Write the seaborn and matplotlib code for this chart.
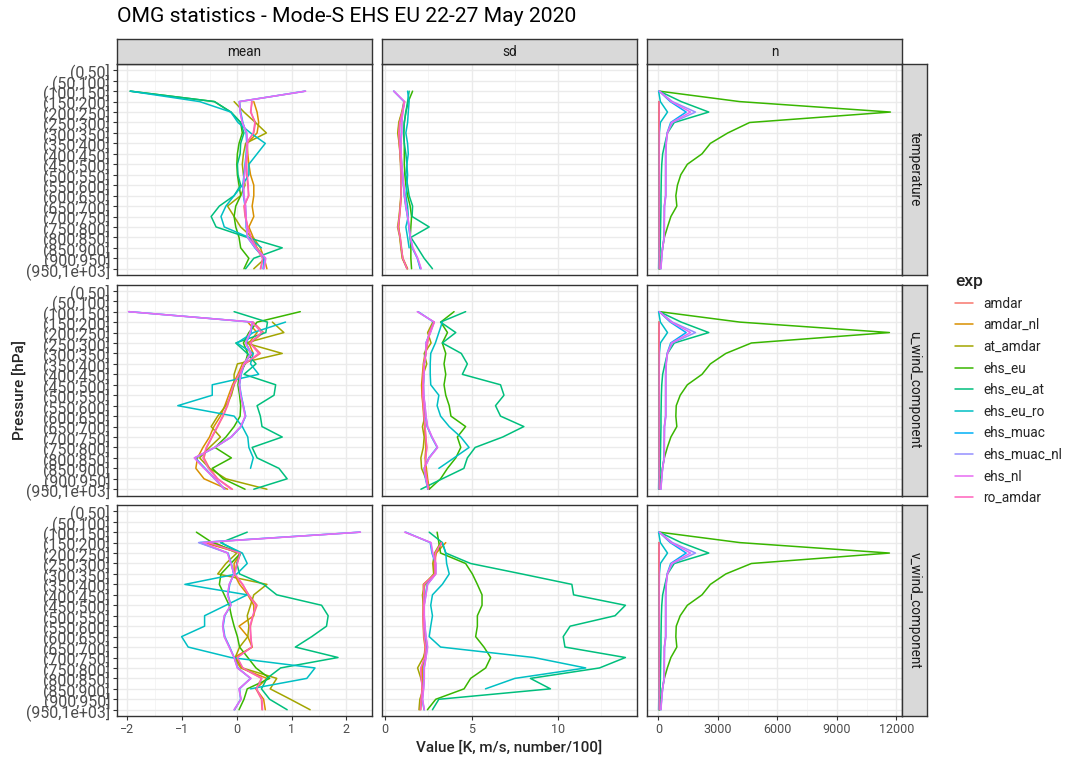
import numpy as np
import pandas as pd
import matplotlib
matplotlib.use('Agg')
import matplotlib.pyplot as plt
import seaborn as sns
from matplotlib.lines import Line2D
from matplotlib.ticker import MultipleLocator, AutoMinorLocator

na = np.nan

# pressure bins (y axis, top to bottom)
levels = ['(0,50]', '(50,100]', '(100,150]', '(150,200]', '(200,250]', '(250,300]',
          '(300,350]', '(350,400]', '(400,450]', '(450,500]', '(500,550]', '(550,600]',
          '(600,650]', '(650,700]', '(700,750]', '(750,800]', '(800,850]', '(850,900]',
          '(900,950]', '(950,1e+03]']
# the data only starts at (100,150]
data_levels = levels[2:]

exps = ['amdar', 'amdar_nl', 'at_amdar', 'ehs_eu', 'ehs_eu_at', 'ehs_eu_ro',
        'ehs_muac', 'ehs_muac_nl', 'ehs_nl', 'ro_amdar']
exp_colors = ['#F8766D', '#D89000', '#A3A500', '#39B600', '#00BF7D', '#00BFC4',
              '#00B0F6', '#9590FF', '#E76BF3', '#FF62BC']

stat_names = ['mean', 'sd', 'n']
var_names = ['temperature', 'u_wind_component', 'v_wind_component']

# ---- temperature ----
temp_mean = {
    'amdar':       [na, 0.28, 0.25, 0.34, 0.31, 0.17, 0.19, 0.18, 0.18, 0.20, 0.22, 0.13, 0.15, 0.20, 0.25, 0.35, 0.48, 0.43],
    'amdar_nl':    [na, 0.31, 0.37, 0.40, 0.37, 0.19, 0.20, 0.22, 0.25, 0.31, 0.31, 0.28, 0.31, 0.22, 0.30, 0.43, 0.50, 0.55],
    'at_amdar':    [na, -0.05, 0.13, 0.34, 0.54, 0.16, 0.12, 0.10, 0.12, 0.15, 0.07, -0.17, -0.05, 0.07, 0.28, 0.37, 0.52, 0.31],
    'ehs_eu':      [-1.95, -0.41, -0.11, 0.07, 0.10, 0.04, 0.01, 0.00, 0.01, 0.04, 0.07, -0.02, -0.05, -0.02, 0.04, 0.07, 0.22, 0.13],
    'ehs_eu_at':   [-1.95, -0.41, -0.11, 0.07, 0.13, 0.07, 0.06, 0.01, 0.02, 0.07, -0.05, -0.32, -0.47, -0.38, 0.19, 0.83, 0.31, 0.16],
    'ehs_eu_ro':   [-1.95, -0.68, -0.11, 0.02, 0.25, 0.52, 0.37, 0.22, 0.22, 0.10, -0.05, -0.20, -0.29, -0.23, 0.22, 0.45, na, na],
    'ehs_muac':    [1.25, 0.05, 0.07, 0.11, 0.17, 0.18, 0.17, 0.15, 0.13, 0.11, 0.12, 0.15, 0.17, 0.17, 0.20, 0.33, 0.50, 0.48],
    'ehs_muac_nl': [1.25, 0.04, 0.06, 0.10, 0.18, 0.19, 0.18, 0.16, 0.14, 0.12, 0.13, 0.16, 0.16, 0.18, 0.19, 0.34, 0.52, 0.49],
    'ehs_nl':      [1.26, 0.05, 0.06, 0.10, 0.18, 0.20, 0.18, 0.16, 0.14, 0.12, 0.13, 0.16, 0.17, 0.18, 0.20, 0.35, 0.53, 0.50],
    'ro_amdar':    [na, 0.27, 0.26, 0.33, 0.30, 0.18, 0.19, 0.17, 0.19, 0.21, 0.21, 0.14, 0.16, 0.20, 0.26, 0.36, 0.47, 0.44],
}
temp_sd = {
    'amdar':       [na, 1.10, 1.00, 0.85, 0.80, 0.83, 0.87, 0.90, 0.92, 0.93, 0.92, 0.88, 0.83, 0.75, 0.87, 0.94, 1.00, 1.25],
    'amdar_nl':    [na, 1.12, 0.98, 0.80, 0.75, 0.81, 0.86, 0.90, 0.92, 0.92, 0.92, 0.87, 0.81, 0.78, 0.85, 0.92, 1.02, 1.29],
    'at_amdar':    [na, 1.08, 0.95, 0.78, 0.72, 0.80, 0.85, 0.88, 0.90, 0.93, 0.90, 0.85, 0.80, 0.71, 0.84, 0.90, 0.98, 1.27],
    'ehs_eu':      [1.58, 1.33, 1.19, 1.10, 1.07, 1.10, 1.10, 1.10, 1.13, 1.19, 1.29, 1.44, 1.52, 1.48, 1.44, 1.48, 1.48, 1.52],
    'ehs_eu_at':   [1.38, 1.29, 1.19, 1.10, 1.06, 1.10, 1.19, 1.25, 1.19, 1.29, 1.38, 1.58, 1.55, 2.54, 1.48, 1.87, 2.25, 2.73],
    'ehs_eu_ro':   [1.29, 1.38, 1.33, 1.29, 1.19, 1.29, 1.33, 1.25, 1.29, 1.25, 1.19, 1.29, 1.33, 1.19, 1.29, 1.38, na, na],
    'ehs_muac':    [0.50, 1.08, 1.00, 0.95, 0.93, 0.90, 0.91, 0.95, 1.00, 1.05, 1.10, 1.18, 1.28, 1.36, 1.43, 1.56, 1.85, 2.02],
    'ehs_muac_nl': [0.48, 1.10, 1.00, 0.94, 0.94, 0.90, 0.90, 0.94, 1.00, 1.06, 1.10, 1.19, 1.29, 1.38, 1.44, 1.58, 1.87, 2.06],
    'ehs_nl':      [0.50, 1.12, 1.02, 0.95, 0.95, 0.91, 0.92, 0.95, 1.01, 1.07, 1.12, 1.20, 1.30, 1.39, 1.46, 1.60, 1.88, 2.08],
    'ro_amdar':    [na, 1.09, 0.99, 0.83, 0.78, 0.82, 0.86, 0.89, 0.91, 0.92, 0.91, 0.87, 0.82, 0.74, 0.86, 0.93, 1.01, 1.26],
}
temp_n = {
    'amdar':       [na, 35, 38, 40, 42, 40, 38, 40, 41, 40, 39, 40, 42, 40, 38, 40, 41, 40],
    'amdar_nl':    [na, 30, 33, 35, 36, 35, 34, 35, 36, 35, 34, 35, 36, 35, 34, 35, 36, 35],
    'at_amdar':    [na, 32, 35, 37, 38, 37, 36, 37, 38, 37, 36, 37, 38, 37, 36, 37, 38, 37],
    'ehs_eu':      [50, 4100, 11700, 4600, 3500, 2620, 2200, 1460, 1130, 960, 880, 930, 630, 460, 300, 215, 130, 80],
    'ehs_eu_at':   [50, 1150, 2540, 800, 460, 330, 215, 170, 150, 140, 130, 130, 120, 110, 100, 90, 70, 50],
    'ehs_eu_ro':   [10, 100, 460, 100, 50, 45, 40, 40, 40, 40, 40, 40, 40, 40, 40, 30, 20, 10],
    'ehs_muac':    [40, 600, 1400, 620, 440, 380, 360, 360, 360, 360, 360, 300, 300, 290, 280, 210, 160, 120],
    'ehs_muac_nl': [50, 710, 1870, 710, 460, 400, 380, 380, 380, 380, 380, 310, 300, 300, 300, 215, 165, 130],
    'ehs_nl':      [45, 650, 1620, 660, 450, 390, 370, 370, 370, 370, 370, 305, 300, 300, 295, 210, 160, 125],
    'ro_amdar':    [na, 33, 36, 38, 39, 38, 37, 38, 39, 38, 37, 38, 39, 38, 37, 38, 39, 38],
}

# ---- u wind ----
u_mean = {
    'amdar':       [na, 0.30, 0.49, 0.25, 0.43, 0.15, 0.05, -0.05, -0.11, -0.17, -0.25, -0.35, -0.45, -0.55, -0.60, -0.50, -0.35, -0.08],
    'amdar_nl':    [na, 0.20, 0.37, 0.22, 0.30, 0.10, 0.02, -0.08, -0.15, -0.22, -0.30, -0.42, -0.50, -0.62, -0.72, -0.75, -0.60, -0.17],
    'at_amdar':    [na, 0.65, 0.86, 0.16, 0.83, 0.01, -0.05, -0.05, -0.10, -0.20, -0.35, -0.47, -0.30, -0.50, -0.68, -0.50, -0.20, 0.55],
    'ehs_eu':      [1.16, 0.37, 0.22, 0.12, 0.20, 0.15, 0.05, 0.02, 0.05, 0.07, 0.06, -0.05, -0.20, -0.40, -0.10, -0.45, -0.25, 0.15],
    'ehs_eu_at':   [-0.05, 0.56, 0.53, -0.02, 0.19, 0.35, 0.13, 0.71, 0.68, 0.37, 0.43, 0.46, 0.83, 0.28, 0.37, 0.77, 0.92, 0.31],
    'ehs_eu_ro':   [na, 0.89, 0.30, 0.00, 0.30, 0.25, 0.40, -0.45, -0.45, -1.08, -0.05, 0.10, 0.20, 0.22, 0.30, 0.25, na, na],
    'ehs_muac':    [-1.97, 0.29, 0.26, 0.17, 0.26, 0.14, 0.08, 0.05, 0.08, 0.12, 0.16, 0.08, -0.10, -0.40, -0.76, -0.58, -0.40, -0.22],
    'ehs_muac_nl': [-1.98, 0.28, 0.25, 0.16, 0.25, 0.13, 0.07, 0.04, 0.07, 0.12, 0.16, 0.07, -0.11, -0.41, -0.77, -0.59, -0.41, -0.23],
    'ehs_nl':      [-1.98, 0.29, 0.24, 0.16, 0.26, 0.13, 0.07, 0.05, 0.07, 0.11, 0.15, 0.07, -0.10, -0.40, -0.78, -0.60, -0.40, -0.22],
    'ro_amdar':    [na, 0.28, 0.45, 0.24, 0.40, 0.14, 0.04, -0.06, -0.12, -0.18, -0.26, -0.36, -0.46, -0.56, -0.62, -0.52, -0.36, -0.10],
}
u_sd = {
    'amdar':       [na, 2.83, 2.54, 2.45, 2.35, 2.25, 2.20, 2.18, 2.15, 2.20, 2.25, 2.30, 2.35, 2.40, 2.35, 2.30, 2.40, 2.50],
    'amdar_nl':    [na, 2.80, 2.60, 2.40, 2.30, 2.20, 2.15, 2.10, 2.12, 2.18, 2.22, 2.28, 2.30, 2.35, 2.30, 2.38, 2.45, 2.55],
    'at_amdar':    [na, 2.75, 2.45, 2.65, 2.25, 2.40, 2.20, 2.15, 2.20, 2.25, 2.30, 2.15, 2.25, 2.20, 2.06, 2.10, 2.35, 2.50],
    'ehs_eu':      [3.98, 3.21, 3.60, 3.30, 3.50, 3.40, 3.50, 3.40, 3.50, 3.70, 3.80, 4.65, 4.17, 4.37, 4.08, 3.60, 3.20, 2.54],
    'ehs_eu_at':   [4.65, 3.20, 4.08, 3.30, 4.40, 4.75, 4.46, 6.67, 6.87, 6.38, 6.67, 8.02, 6.80, 5.20, 4.75, 4.55, 3.30, 2.06],
    'ehs_eu_ro':   [na, 3.30, 3.10, 2.90, 2.63, 2.60, 2.60, 2.63, 3.10, 3.00, 3.20, 3.70, 4.37, 4.85, 3.98, 3.10, na, na],
    'ehs_muac':    [1.90, 2.80, 2.58, 2.36, 2.33, 2.26, 2.24, 2.21, 2.22, 2.28, 2.33, 2.42, 2.68, 3.00, 2.52, 2.25, 2.33, 2.46],
    'ehs_muac_nl': [1.87, 2.83, 2.60, 2.35, 2.35, 2.25, 2.25, 2.20, 2.22, 2.30, 2.35, 2.44, 2.70, 3.02, 2.54, 2.25, 2.35, 2.48],
    'ehs_nl':      [1.85, 2.84, 2.62, 2.36, 2.36, 2.26, 2.24, 2.21, 2.23, 2.30, 2.36, 2.45, 2.71, 3.03, 2.55, 2.26, 2.36, 2.49],
    'ro_amdar':    [na, 2.82, 2.55, 2.44, 2.34, 2.24, 2.19, 2.17, 2.15, 2.21, 2.24, 2.30, 2.34, 2.40, 2.34, 2.31, 2.40, 2.50],
}
u_n = {
    'amdar':       [na, 36, 38, 40, 41, 40, 39, 40, 41, 40, 39, 40, 41, 40, 39, 40, 41, 40],
    'amdar_nl':    [na, 31, 33, 35, 36, 35, 34, 35, 36, 35, 34, 35, 36, 35, 34, 35, 36, 35],
    'at_amdar':    [na, 33, 35, 37, 38, 37, 36, 37, 38, 37, 36, 37, 38, 37, 36, 37, 38, 37],
    'ehs_eu':      [50, 4110, 11650, 4690, 3400, 2620, 2200, 1460, 1100, 900, 880, 930, 630, 450, 300, 200, 110, 60],
    'ehs_eu_at':   [50, 1150, 2540, 800, 460, 330, 215, 170, 150, 140, 130, 130, 120, 110, 100, 90, 70, 50],
    'ehs_eu_ro':   [10, 100, 460, 100, 50, 45, 40, 40, 40, 40, 40, 40, 40, 40, 40, 30, 20, 10],
    'ehs_muac':    [40, 600, 1400, 620, 440, 380, 360, 360, 360, 360, 360, 300, 300, 290, 280, 210, 160, 120],
    'ehs_muac_nl': [50, 710, 1870, 710, 460, 400, 380, 380, 380, 380, 380, 310, 300, 300, 300, 215, 165, 130],
    'ehs_nl':      [45, 650, 1620, 660, 450, 390, 370, 370, 370, 370, 370, 305, 300, 300, 295, 210, 160, 125],
    'ro_amdar':    [na, 34, 36, 38, 39, 38, 37, 38, 39, 38, 37, 38, 39, 38, 37, 38, 39, 38],
}

# ---- v wind ----
v_mean = {
    'amdar':       [na, -0.55, 0.05, 0.00, -0.05, 0.10, 0.22, 0.37, 0.30, 0.25, 0.25, 0.28, 0.00, 0.10, 0.45, 0.35, 0.45, 0.46],
    'amdar_nl':    [na, -0.60, 0.07, -0.05, -0.05, 0.05, 0.20, 0.31, 0.31, 0.04, 0.20, 0.28, -0.05, 0.07, 0.55, 0.35, 0.49, 0.52],
    'at_amdar':    [na, -0.41, 0.00, -0.20, -0.35, 0.55, 0.31, 0.25, 0.19, 0.22, 0.20, 0.05, -0.03, 0.10, 0.73, 0.61, 0.98, 1.34],
    'ehs_eu':      [-0.74, -0.45, 0.07, -0.11, -0.29, -0.32, -0.23, -0.14, -0.10, -0.05, 0.01, 0.05, 0.20, 0.35, 0.60, 0.19, 0.13, 0.04],
    'ehs_eu_at':   [0.19, -0.29, 0.07, 0.00, 0.05, 0.49, 0.73, 1.55, 1.67, 1.64, 1.37, 1.07, 1.85, 0.80, 0.55, 0.45, 0.60, 0.92],
    'ehs_eu_ro':   [na, -0.30, 0.10, 0.19, 0.00, -0.95, 0.19, -0.20, -0.59, -0.59, -1.01, -0.89, -0.11, 1.43, 1.28, 0.25, na, na],
    'ehs_muac':    [2.25, -0.68, -0.16, -0.10, -0.06, -0.13, -0.16, -0.11, -0.22, -0.25, -0.22, -0.13, -0.05, 0.02, 0.25, 0.05, 0.07, -0.04],
    'ehs_muac_nl': [2.26, -0.70, -0.17, -0.11, -0.05, -0.14, -0.17, -0.11, -0.23, -0.26, -0.23, -0.14, -0.05, 0.01, 0.25, 0.04, 0.07, -0.05],
    'ehs_nl':      [2.26, -0.62, -0.17, -0.11, -0.05, -0.14, -0.17, -0.11, -0.23, -0.26, -0.23, -0.14, -0.05, 0.01, 0.26, 0.04, 0.08, -0.05],
    'ro_amdar':    [na, -0.52, 0.06, 0.01, -0.04, 0.11, 0.21, 0.35, 0.29, 0.24, 0.26, 0.27, 0.01, 0.11, 0.46, 0.36, 0.46, 0.47],
}
v_sd = {
    'amdar':       [na, 3.30, 2.92, 2.90, 2.90, 2.25, 2.25, 2.22, 2.20, 2.22, 2.25, 2.35, 2.30, 2.10, 2.10, 2.15, 2.10, 2.06],
    'amdar_nl':    [na, 3.50, 2.95, 2.80, 2.85, 2.20, 2.20, 2.20, 2.18, 2.20, 2.22, 2.30, 2.25, 2.15, 2.15, 2.12, 2.08, 2.00],
    'at_amdar':    [na, 3.20, 2.85, 2.75, 2.80, 2.30, 2.15, 2.20, 2.22, 2.25, 2.30, 2.40, 2.20, 1.87, 2.06, 2.20, 2.00, 1.95],
    'ehs_eu':      [3.00, 3.10, 3.20, 4.65, 5.04, 5.33, 5.60, 5.60, 5.33, 5.33, 5.23, 5.71, 6.10, 5.81, 4.94, 4.56, 2.92, 2.44],
    'ehs_eu_at':   [2.54, 3.30, 3.50, 4.94, 7.90, 10.80, 10.90, 13.90, 13.30, 10.70, 10.30, 10.40, 13.90, 12.40, 8.40, 9.56, 3.10, 2.73],
    'ehs_eu_ro':   [na, 3.30, 3.50, 3.55, 3.70, 3.30, 2.73, 2.63, 2.73, 2.63, 2.54, 3.20, 8.60, 11.60, 7.50, 5.80, na, na],
    'ehs_muac':    [1.18, 2.60, 2.70, 2.90, 2.90, 2.42, 2.33, 2.24, 2.24, 2.28, 2.33, 2.42, 2.33, 2.24, 2.24, 2.20, 2.14, 2.24],
    'ehs_muac_nl': [1.15, 2.63, 2.73, 2.92, 2.92, 2.44, 2.35, 2.25, 2.25, 2.29, 2.35, 2.44, 2.35, 2.25, 2.25, 2.21, 2.15, 2.25],
    'ehs_nl':      [1.12, 2.65, 2.75, 2.93, 2.93, 2.45, 2.36, 2.26, 2.26, 2.30, 2.36, 2.45, 2.36, 2.26, 2.26, 2.22, 2.16, 2.26],
    'ro_amdar':    [na, 3.25, 2.90, 2.85, 2.88, 2.24, 2.22, 2.21, 2.19, 2.21, 2.24, 2.33, 2.28, 2.05, 2.08, 2.14, 2.07, 2.03],
}
v_n = {
    'amdar':       [na, 36, 38, 40, 41, 40, 39, 40, 41, 40, 39, 40, 41, 40, 39, 40, 41, 40],
    'amdar_nl':    [na, 31, 33, 35, 36, 35, 34, 35, 36, 35, 34, 35, 36, 35, 34, 35, 36, 35],
    'at_amdar':    [na, 33, 35, 37, 38, 37, 36, 37, 38, 37, 36, 37, 38, 37, 36, 37, 38, 37],
    'ehs_eu':      [50, 4110, 11650, 4690, 3400, 2620, 2200, 1460, 1100, 900, 880, 930, 630, 450, 300, 200, 110, 60],
    'ehs_eu_at':   [50, 1150, 2540, 800, 460, 330, 215, 170, 150, 140, 130, 130, 120, 110, 100, 90, 70, 50],
    'ehs_eu_ro':   [10, 100, 460, 100, 50, 45, 40, 40, 40, 40, 40, 40, 40, 40, 40, 30, 20, 10],
    'ehs_muac':    [40, 600, 1400, 620, 440, 380, 360, 360, 360, 360, 360, 300, 300, 290, 280, 210, 160, 120],
    'ehs_muac_nl': [50, 710, 1870, 710, 460, 400, 380, 380, 380, 380, 380, 310, 300, 300, 300, 215, 165, 130],
    'ehs_nl':      [45, 650, 1620, 660, 450, 390, 370, 370, 370, 370, 370, 305, 300, 300, 295, 210, 160, 125],
    'ro_amdar':    [na, 34, 36, 38, 39, 38, 37, 38, 39, 38, 37, 38, 39, 38, 37, 38, 39, 38],
}

panels = [[temp_mean, temp_sd, temp_n],
          [u_mean, u_sd, u_n],
          [v_mean, v_sd, v_n]]


def to_long(d):
    rows = []
    for exp in exps:
        for lev, val in zip(data_levels, d[exp]):
            rows.append((exp, levels.index(lev), val))
    return pd.DataFrame(rows, columns=['exp', 'pos', 'value']).dropna()


sns.set_style('white')
plt.rcParams['font.family'] = ['Roboto', 'DejaVu Sans']

W, H = 1065, 758
fig, axes = plt.subplots(3, 3, figsize=(W / 100, H / 100), dpi=100, sharex='col', sharey=True)
fig.subplots_adjust(left=117 / W, right=902 / W, top=1 - 64 / H, bottom=1 - 716 / H,
                    wspace=10 / 255, hspace=9.5 / 211)

border = '#333333'
tick_major = [1, 5, 3000]

for r in range(3):
    for c in range(3):
        ax = axes[r, c]
        df = to_long(panels[r][c])
        sns.lineplot(data=df, x='value', y='pos', hue='exp', hue_order=exps,
                     palette=exp_colors, orient='y', sort=True, estimator=None,
                     legend=False, lw=1.1, ax=ax)
        ax.set_xlabel('')
        ax.set_ylabel('')
        ax.set_facecolor('white')
        ax.set_axisbelow(True)
        ax.xaxis.set_major_locator(MultipleLocator(tick_major[c]))
        ax.xaxis.set_minor_locator(AutoMinorLocator(2))
        ax.grid(True, which='major', color='#EBEBEB', lw=1.0)
        ax.grid(True, which='minor', axis='x', color='#F4F4F4', lw=0.6)
        for sp in ax.spines.values():
            sp.set_color(border)
            sp.set_linewidth(1.0)
        ax.tick_params(which='major', length=3, width=0.8, color=border,
                       labelsize=9, labelcolor='#4D4D4D', pad=2)
        ax.tick_params(which='minor', length=0)
        ax.tick_params(axis='y', labelsize=11.5)
        ax.tick_params(left=(c == 0), labelleft=(c == 0),
                       bottom=(r == 2), labelbottom=(r == 2))

axes[0, 0].set_yticks(range(len(levels)))
axes[0, 0].set_yticklabels(levels)
axes[0, 0].set_ylim(len(levels) - 0.4, -0.6)
axes[2, 0].set_xticks([-2, -1, 0, 1, 2])

# facet strips
strip_h = 25 / H
strip_w = 25 / W
for c in range(3):
    p = axes[0, c].get_position()
    s = fig.add_axes([p.x0, p.y1, p.width, strip_h])
    s.set_facecolor('#D9D9D9')
    s.set_xticks([]); s.set_yticks([])
    for sp in s.spines.values():
        sp.set_color(border); sp.set_linewidth(1.0)
    s.text(0.5, 0.5, stat_names[c], ha='center', va='center', fontsize=9.8, color='#1A1A1A',
           transform=s.transAxes)
for r in range(3):
    p = axes[r, 2].get_position()
    s = fig.add_axes([p.x1, p.y0, strip_w, p.height])
    s.set_facecolor('#D9D9D9')
    s.set_xticks([]); s.set_yticks([])
    for sp in s.spines.values():
        sp.set_color(border); sp.set_linewidth(1.0)
    s.text(0.5, 0.5, var_names[r], ha='center', va='center', fontsize=9.8, color='#1A1A1A',
           rotation=-90, transform=s.transAxes)

fig.text(117 / W, 1 - 17 / H, 'OMG statistics - Mode-S EHS EU 22-27 May 2020',
         fontsize=15.2, va='center', ha='left', color='black')
fig.text(509 / W, 1 - 748 / H, 'Value [K, m/s, number/100]', fontsize=11,
         fontweight='medium', ha='center', va='center')
fig.text(20 / W, 1 - 390 / H, 'Pressure [hPa]', fontsize=11, fontweight='medium',
         rotation=90, ha='center', va='center')

handles = [Line2D([0], [0], color=col, lw=1.1) for col in exp_colors]
fig.legend(handles, exps, loc='upper left', bbox_to_anchor=(955 / W, 1 - 274 / H),
           frameon=False, title='exp', alignment='left', fontsize=9.8,
           title_fontproperties={'size': 12.5, 'weight': 'medium'},
           handlelength=1.3, handletextpad=0.75, labelspacing=0.56, borderpad=0,
           borderaxespad=0)

fig.savefig('out.png', dpi=100)
